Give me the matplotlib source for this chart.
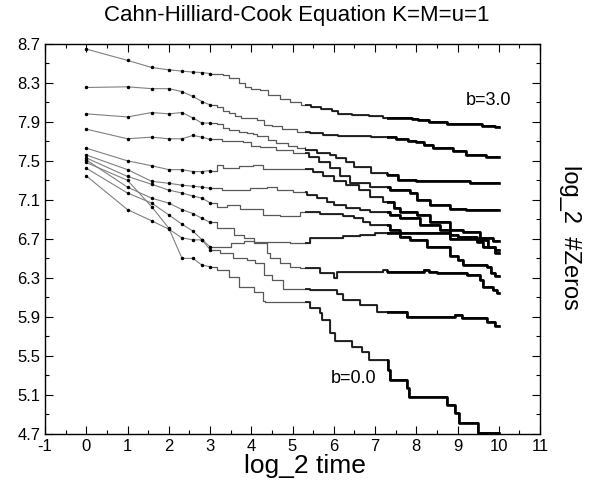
import numpy as np
import matplotlib
matplotlib.use("Agg")
import matplotlib.pyplot as plt
from matplotlib.patches import Rectangle
from matplotlib.ticker import MultipleLocator, FixedLocator

plt.rcParams['font.family'] = ['Liberation Sans', 'DejaVu Sans']
plt.rcParams['axes.unicode_minus'] = False

# %% Data: log_2 #zeros

# early samples, one per integer time t = 1..8
t_early = [1, 2, 3, 4, 5, 6, 7, 8]

# late part: (log_2 time where a plateau starts, plateau value)
yE_30 = [8.646, 8.53, 8.457, 8.433, 8.42, 8.41, 8.405, 8.395]
xL_30 = [3.17, 3.32, 3.46, 3.6, 3.7, 3.85, 4.0, 4.2, 4.4, 4.7, 4.95, 5.2, 5.45, 5.7,
         5.95, 6.1, 6.45, 6.85, 7.2, 7.9, 8.05, 8.3, 8.75, 9.6, 9.9]
yL_30 = [8.39, 8.385, 8.35, 8.345, 8.30, 8.256, 8.24, 8.23, 8.18, 8.13, 8.10, 8.07, 8.05, 8.03,
         8.01, 7.98, 7.97, 7.955, 7.935, 7.93, 7.915, 7.90, 7.876, 7.86, 7.85]

yE_27 = [8.252, 8.259, 8.24, 8.24, 8.21, 8.16, 8.108, 8.074]
xL_27 = [3.17, 3.32, 3.46, 3.6, 3.75, 4.15, 4.3, 4.5, 4.75, 5.1, 5.43, 5.75, 6.1, 6.4, 6.9,
         7.5, 7.8, 8.0, 8.2, 8.4, 8.9, 9.2, 9.7]
yL_27 = [8.047, 8.013, 7.99, 7.96, 7.94, 7.92, 7.87, 7.86, 7.825, 7.80, 7.784, 7.767, 7.757,
         7.753, 7.743, 7.72, 7.70, 7.69, 7.66, 7.63, 7.60, 7.56, 7.54]

yE_24 = [7.982, 7.95, 7.995, 7.982, 7.995, 7.94, 7.887, 7.887]
xL_24 = [3.17, 3.32, 3.46, 3.7, 3.9, 4.05, 4.15, 4.4, 4.6, 4.9, 5.1, 5.3, 5.6, 5.9, 6.05,
         6.3, 6.5, 6.9, 7.3, 7.55, 8.0, 9.3]
yL_24 = [7.88, 7.835, 7.818, 7.797, 7.784, 7.774, 7.75, 7.715, 7.68, 7.647, 7.63, 7.61,
         7.578, 7.56, 7.527, 7.49, 7.44, 7.38, 7.357, 7.305, 7.29, 7.27]

yE_21 = [7.825, 7.726, 7.743, 7.726, 7.726, 7.76, 7.743, 7.72]
xL_21 = [3.3, 3.6, 3.8, 4.0, 4.2, 4.6, 5.0, 5.4, 5.65, 5.9, 6.15, 6.4, 6.88, 7.37, 7.85,
         8.02, 8.34, 8.82, 9.2]
yL_21 = [7.708, 7.70, 7.69, 7.654, 7.64, 7.61, 7.578, 7.544, 7.49, 7.425, 7.34, 7.27, 7.23,
         7.20, 7.17, 7.10, 7.05, 7.005, 7.0]

yE_18 = [7.63, 7.50, 7.45, 7.41, 7.41, 7.39, 7.39, 7.40]
xL_18 = [3.17, 3.32, 3.7, 4.05, 4.29, 5.5, 5.75, 6.0, 6.3, 6.6, 6.88, 7.2, 7.45, 7.6, 8.02,
         8.34, 8.82, 9.14, 9.55, 9.85]
yL_18 = [7.46, 7.425, 7.45, 7.46, 7.415, 7.39, 7.34, 7.29, 7.255, 7.20, 7.134, 7.083, 7.015,
         6.98, 6.946, 6.877, 6.79, 6.775, 6.707, 6.68]

yE_15 = [7.56, 7.41, 7.29, 7.27, 7.25, 7.24, 7.23, 7.22]
xL_15 = [3.3, 3.98, 4.38, 4.62, 5.02, 5.36, 5.6, 5.84, 6.0, 6.3, 6.64, 6.88, 7.37, 7.61,
         8.1, 8.58, 8.82, 9.0, 9.48, 9.62, 9.9]
yL_15 = [7.20, 7.22, 7.23, 7.20, 7.185, 7.15, 7.117, 7.083, 7.05, 7.015, 7.0, 6.98, 6.946,
         6.91, 6.84, 6.79, 6.74, 6.717, 6.672, 6.62, 6.587]

yE_12 = [7.425, 7.17, 7.067, 6.946, 6.85, 6.78, 6.69, 6.62]
xL_12 = [3.5, 3.82, 4.06, 4.38, 4.95, 5.43, 6.23, 6.64, 7.0, 8.1, 8.82, 9.55, 9.75, 9.9]
yL_12 = [6.656, 6.68, 6.656, 6.672, 6.656, 6.707, 6.73, 6.74, 6.765, 6.76, 6.70, 6.69,
         6.62, 6.56]

yE_09 = [7.53, 7.34, 7.26, 7.20, 7.17, 7.14, 7.117, 7.07]
xL_09 = [3.17, 3.4, 3.73, 4.29, 4.7, 5.19, 5.67, 6.23, 6.5, 6.7, 6.88, 7.37, 7.61, 7.85,
         8.27, 8.82, 9.0, 9.14, 9.72, 9.8, 9.9]
yL_09 = [7.03, 7.05, 7.005, 6.946, 6.93, 6.98, 6.96, 6.936, 6.91, 6.877, 6.84, 6.79, 6.717,
         6.69, 6.62, 6.52, 6.485, 6.43, 6.415, 6.35, 6.32]

yE_06 = [7.51, 7.23, 7.117, 7.067, 7.0, 6.96, 6.91, 6.87]
xL_06 = [3.17, 3.58, 3.82, 4.06, 4.38, 4.46, 4.70, 4.95, 5.19, 5.67, 6.0, 6.08, 7.2, 7.3,
         8.2, 8.3, 8.5, 9.24, 9.55, 9.62, 9.87, 9.95]
yL_06 = [6.81, 6.74, 6.707, 6.672, 6.553, 6.50, 6.45, 6.415, 6.40, 6.35, 6.30, 6.365, 6.38,
         6.365, 6.38, 6.365, 6.35, 6.33, 6.28, 6.21, 6.177, 6.14]

yE_03 = [7.346, 7.0, 6.885, 6.80, 6.71, 6.69, 6.69, 6.59]
xL_03 = [3.25, 3.55, 3.9, 4.1, 4.3, 4.5, 4.78, 5.43, 6.08, 6.23, 6.64, 7.05, 7.78, 8.95,
         9.1, 9.72, 9.9]
yL_03 = [6.56, 6.50, 6.485, 6.45, 6.33, 6.28, 6.19, 6.177, 6.13, 6.07, 6.02, 5.955, 5.90,
         5.92, 5.886, 5.85, 5.81]

yE_00 = [7.483, 7.30, 7.03, 6.81, 6.50, 6.50, 6.43, 6.415]
xL_00 = [3.17, 3.46, 3.7, 4.06, 4.29, 4.34, 5.43, 5.67, 5.72, 5.92, 6.04, 6.44, 6.69, 6.85,
         7.32, 7.37, 7.78, 7.82, 8.75, 8.95, 9.03, 9.5]
yL_00 = [6.38, 6.31, 6.21, 6.16, 6.06, 6.05, 5.99, 5.94, 5.87, 5.73, 5.65, 5.59, 5.54, 5.46,
         5.36, 5.25, 5.17, 5.08, 5.0, 4.91, 4.81, 4.71]

curves = [
    (yE_30, xL_30, yL_30), (yE_27, xL_27, yL_27), (yE_24, xL_24, yL_24),
    (yE_21, xL_21, yL_21), (yE_18, xL_18, yL_18), (yE_15, xL_15, yL_15),
    (yE_12, xL_12, yL_12), (yE_09, xL_09, yL_09), (yE_06, xL_06, yL_06),
    (yE_03, xL_03, yL_03), (yE_00, xL_00, yL_00),
]

# %% Plot

fig = plt.figure(figsize=(6.0, 4.92), dpi=100)
ax = fig.add_axes([0.075, 0.118, 0.825, 0.793])

x_early = np.log2(t_early)
x_end = np.log2(1024)

for yE, xL, yL in curves:
    ax.plot(x_early, yE, color='0.5', lw=0.8, zorder=2)
    ax.plot(x_early, yE, ls='none', marker='o', ms=1.5, color='k', zorder=3)

    xs = [x_early[-1]] + xL + [x_end]
    ys = [yE[-1]] + yL + [yL[-1]]
    # dense dots at late times look like a line getting darker / thicker
    ax.plot(xs, ys, drawstyle='steps-post', color='0.35', lw=0.9, zorder=2)
    mid, = ax.plot(xs, ys, drawstyle='steps-post', color='0.1', lw=1.3, zorder=3)
    mid.set_clip_path(Rectangle((5.3, 4.0), 5.0, 5.0, transform=ax.transData))
    heavy, = ax.plot(xs, ys, drawstyle='steps-post', color='k', lw=1.9, zorder=3)
    heavy.set_clip_path(Rectangle((7.3, 4.0), 3.0, 5.0, transform=ax.transData))

ax.text(9.19, 8.115, "b=3.0", fontsize=13, va='center', ha='left')
ax.text(5.92, 5.27, "b=0.0", fontsize=13, va='center', ha='left')

ax.set_xlim(-1, 11)
ax.set_ylim(4.7, 8.7)
ax.xaxis.set_major_locator(MultipleLocator(1))
ax.xaxis.set_minor_locator(MultipleLocator(0.5))
yt = np.round(np.arange(4.7, 8.71, 0.4), 1)
ax.yaxis.set_major_locator(FixedLocator(yt))
ax.set_yticklabels([f"{v:.1f}" for v in yt])
ax.yaxis.set_minor_locator(FixedLocator(np.round(np.arange(4.9, 8.7, 0.4), 1)))

ax.tick_params(which='both', direction='in', top=True, right=True, width=0.8, labelsize=12)
ax.tick_params(which='major', length=6)
ax.tick_params(which='minor', length=3)
for s in ax.spines.values():
    s.set_linewidth(1.0)

fig.text(0.495, 0.968, "Cahn-Hilliard-Cook Equation K=M=u=1", fontsize=16, ha='center', va='center')
fig.text(0.508, 0.052, "log_2 time", fontsize=19, ha='center', va='center')
fig.text(0.95, 0.518, "log_2  #Zeros", fontsize=17, ha='center', va='center', rotation=270)

fig.savefig("out.png", dpi=100)
